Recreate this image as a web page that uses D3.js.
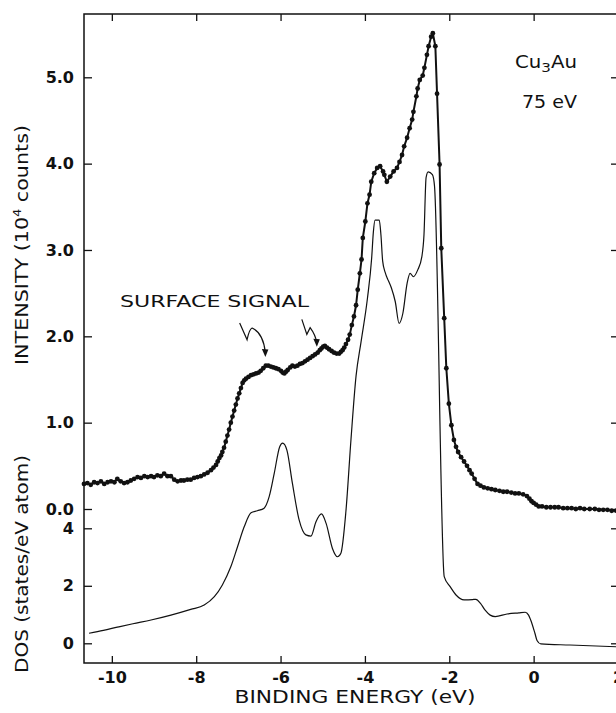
<!DOCTYPE html>
<html>
<head>
<meta charset="utf-8">
<script src="https://cdn.jsdelivr.net/npm/d3@7"></script>
<style>
  body { margin: 0; background: #fff; }
  text { font-family: "DejaVu Sans", sans-serif; fill: #111; }
</style>
</head>
<body>
<div id="chart"></div>
<script>
// photoemission spectrum (10^4 counts) vs binding energy (eV)
const intensity = [
  [-10.66,0.29],[-10.58,0.30],[-10.50,0.28],[-10.42,0.31],[-10.34,0.30],[-10.26,0.32],[-10.18,0.29],
  [-10.10,0.31],[-10.02,0.32],[-9.94,0.31],[-9.87,0.35],[-9.79,0.32],[-9.71,0.30],[-9.63,0.31],
  [-9.55,0.33],[-9.47,0.35],[-9.39,0.37],[-9.31,0.36],[-9.23,0.38],[-9.15,0.37],[-9.07,0.38],
  [-9.00,0.37],[-8.92,0.39],[-8.84,0.38],[-8.76,0.41],[-8.68,0.38],[-8.60,0.38],[-8.52,0.34],
  [-8.44,0.32],[-8.36,0.33],[-8.29,0.33],[-8.21,0.34],[-8.13,0.34],[-8.05,0.36],[-7.97,0.37],
  [-7.89,0.38],[-7.81,0.40],[-7.73,0.42],[-7.65,0.45],[-7.59,0.48],[-7.53,0.51],[-7.49,0.55],
  [-7.45,0.59],[-7.41,0.62],[-7.38,0.66],[-7.34,0.71],[-7.30,0.78],[-7.26,0.85],[-7.22,0.92],
  [-7.18,1.00],[-7.14,1.07],[-7.10,1.14],[-7.06,1.21],[-7.02,1.28],[-6.98,1.34],[-6.94,1.40],
  [-6.90,1.46],[-6.86,1.49],[-6.82,1.51],[-6.76,1.53],[-6.70,1.55],[-6.64,1.56],[-6.58,1.57],
  [-6.52,1.58],[-6.47,1.60],[-6.41,1.63],[-6.35,1.66],[-6.29,1.66],[-6.23,1.65],[-6.17,1.64],
  [-6.11,1.63],[-6.05,1.62],[-5.99,1.60],[-5.95,1.58],[-5.91,1.57],[-5.87,1.59],[-5.83,1.61],
  [-5.77,1.64],[-5.72,1.66],[-5.66,1.65],[-5.60,1.66],[-5.54,1.68],[-5.48,1.69],[-5.42,1.71],
  [-5.36,1.73],[-5.30,1.75],[-5.24,1.77],[-5.18,1.79],[-5.12,1.81],[-5.07,1.84],[-5.03,1.86],
  [-4.99,1.88],[-4.95,1.89],[-4.90,1.87],[-4.85,1.85],[-4.79,1.83],[-4.73,1.81],[-4.67,1.80],
  [-4.61,1.80],[-4.57,1.82],[-4.53,1.84],[-4.49,1.87],[-4.45,1.91],[-4.40,1.96],[-4.36,2.02],
  [-4.31,2.13],[-4.26,2.23],[-4.21,2.36],[-4.17,2.54],[-4.12,2.73],[-4.08,2.89],[-4.05,3.14],
  [-3.99,3.33],[-3.94,3.54],[-3.89,3.64],[-3.85,3.79],[-3.78,3.89],[-3.71,3.95],[-3.64,3.97],
  [-3.57,3.91],[-3.54,3.87],[-3.48,3.79],[-3.40,3.85],[-3.32,3.91],[-3.24,3.95],[-3.18,4.02],
  [-3.12,4.10],[-3.07,4.20],[-3.00,4.30],[-2.94,4.41],[-2.88,4.51],[-2.85,4.60],[-2.78,4.78],
  [-2.75,4.87],[-2.70,4.97],[-2.63,5.02],[-2.59,5.11],[-2.53,5.26],[-2.49,5.36],[-2.43,5.47],
  [-2.39,5.51],[-2.33,5.36],[-2.29,4.81],[-2.23,3.99],[-2.19,3.02],[-2.12,2.21],[-2.07,1.63],
  [-2.01,1.22],[-1.95,0.97],[-1.89,0.80],[-1.84,0.72],[-1.79,0.66],[-1.72,0.60],[-1.65,0.55],
  [-1.58,0.50],[-1.52,0.45],[-1.47,0.41],[-1.40,0.35],[-1.33,0.29],[-1.26,0.27],[-1.18,0.25],
  [-1.09,0.24],[-1.00,0.23],[-0.91,0.22],[-0.81,0.21],[-0.72,0.20],[-0.63,0.20],[-0.53,0.19],
  [-0.44,0.18],[-0.35,0.18],[-0.25,0.17],[-0.16,0.15],[-0.10,0.12],[-0.05,0.09],[0.00,0.07],
  [0.06,0.05],[0.12,0.03],[0.20,0.03],[0.30,0.02],[0.40,0.02],[0.50,0.02],[0.59,0.02],
  [0.70,0.01],[0.80,0.01],[0.90,0.01],[1.00,0.00],[1.10,0.01],[1.20,0.00],[1.33,0.00],
  [1.45,0.00],[1.55,-0.01],[1.65,-0.01],[1.75,-0.01],[1.85,-0.02],[1.96,-0.02]
];

// calculated density of states (states/eV atom)
const dos = [
  [-10.54,0.35],[-10.20,0.45],[-9.87,0.56],[-9.50,0.68],[-9.07,0.81],[-8.60,0.98],[-8.13,1.18],
  [-7.81,1.33],[-7.57,1.62],[-7.38,2.03],[-7.18,2.66],[-7.02,3.36],[-6.86,4.06],[-6.70,4.54],
  [-6.55,4.61],[-6.39,4.70],[-6.27,5.10],[-6.15,5.91],[-6.02,6.84],[-5.95,6.96],[-5.85,6.72],
  [-5.72,5.57],[-5.56,4.29],[-5.40,3.77],[-5.28,3.73],[-5.16,4.23],[-5.03,4.50],[-4.92,4.17],
  [-4.77,3.30],[-4.65,3.01],[-4.57,3.13],[-4.45,4.60],[-4.33,7.10],[-4.21,9.30],[-4.09,10.50],
  [-3.94,12.00],[-3.84,13.40],[-3.80,14.30],[-3.76,14.72],[-3.66,14.72],[-3.62,14.20],
  [-3.58,13.30],[-3.52,12.90],[-3.44,12.60],[-3.37,12.35],[-3.28,11.88],[-3.19,11.13],
  [-3.10,11.48],[-3.00,12.52],[-2.93,12.87],[-2.85,12.75],[-2.75,12.98],[-2.65,13.45],
  [-2.60,14.20],[-2.55,16.20],[-2.50,16.40],[-2.40,16.30],[-2.35,15.90],[-2.12,2.32],
  [-1.98,1.97],[-1.84,1.68],[-1.65,1.51],[-1.45,1.52],[-1.37,1.53],[-1.26,1.39],[-1.15,1.15],
  [-1.03,0.98],[-0.91,0.93],[-0.63,1.02],[-0.35,1.06],[-0.20,1.08],[-0.12,0.98],[-0.07,0.81],
  [0.03,0.35],[0.08,0.10],[0.17,-0.02],[0.86,-0.06],[1.96,-0.12]
];

const energyTicks = [-10, -8, -6, -4, -2, 0, 2];
const intensityTicks = [0, 1, 2, 3, 4, 5];
const dosTicks = [0, 2, 4];

// arrow tips for the "SURFACE SIGNAL" note, in data units
const surfaceArrows = [[-6.36, 1.76], [-5.14, 1.88]];

const width = 616;
const height = 713;
const frame = {left: 84, right: 618, top: 14, bottom: 663};

const x = d3.scaleLinear()
      .domain([-10.66, 2.0])
      .range([frame.left, frame.right]);

const yI = d3.scaleLinear()
      .domain([0, 5])
      .range([509, 77.3]);

const yD = d3.scaleLinear()
      .domain([0, 4])
      .range([643.3, 528.3]);

const svg = d3.select("#chart").append("svg")
      .attr("width", width)
      .attr("height", height)
      .attr("viewBox", [0, 0, width, height]);

svg.append("rect")
    .attr("width", width).attr("height", height).attr("fill", "#fff");

const tickStyle = g => g
      .call(g => g.select(".domain").remove())
      .call(g => g.selectAll(".tick line").attr("stroke", "#111").attr("stroke-width", 1.3))
      .call(g => g.selectAll(".tick text")
            .attr("font-family", "DejaVu Sans")
            .attr("font-weight", "bold")
            .attr("font-size", 16)
            .attr("fill", "#111"));

// bottom / top
svg.append("g")
    .attr("transform", `translate(0,${frame.bottom})`)
    .call(d3.axisBottom(x).tickValues(energyTicks).tickSizeInner(-7).tickSizeOuter(0)
          .tickPadding(9).tickFormat(d => String(d)))
    .call(tickStyle);

svg.append("g")
    .attr("transform", `translate(0,${frame.top})`)
    .call(d3.axisTop(x).tickValues(energyTicks).tickSizeInner(-7).tickSizeOuter(0).tickFormat(""))
    .call(tickStyle);

// left: intensity and DOS scales
svg.append("g")
    .attr("transform", `translate(${frame.left},0)`)
    .call(d3.axisLeft(yI).tickValues(intensityTicks).tickSizeInner(-8).tickSizeOuter(0)
          .tickPadding(10).tickFormat(d3.format(".1f")))
    .call(tickStyle);

svg.append("g")
    .attr("transform", `translate(${frame.left},0)`)
    .call(d3.axisLeft(yD).tickValues(dosTicks).tickSizeInner(-8).tickSizeOuter(0)
          .tickPadding(10).tickFormat(d3.format("d")))
    .call(tickStyle);

svg.append("g")
    .attr("transform", `translate(${frame.right},0)`)
    .call(d3.axisRight(yI).tickValues(intensityTicks).tickSizeInner(-7).tickSizeOuter(0).tickFormat(""))
    .call(tickStyle);

svg.append("g")
    .attr("transform", `translate(${frame.right},0)`)
    .call(d3.axisRight(yD).tickValues(dosTicks).tickSizeInner(-7).tickSizeOuter(0).tickFormat(""))
    .call(tickStyle);

svg.append("rect")
    .attr("x", frame.left)
    .attr("y", frame.top)
    .attr("width", frame.right - frame.left)
    .attr("height", frame.bottom - frame.top)
    .attr("fill", "none")
    .attr("stroke", "#111")
    .attr("stroke-width", 1.5);

// DOS curve
const dosLine = d3.line()
      .curve(d3.curveMonotoneX)
      .x(d => x(d[0]))
      .y(d => yD(d[1]));

svg.append("path")
    .datum(dos)
    .attr("fill", "none")
    .attr("stroke", "#111")
    .attr("stroke-width", 1.2)
    .attr("stroke-linejoin", "round")
    .attr("d", dosLine);

// measured intensity, line + dots
const intLine = d3.line()
      .x(d => x(d[0]))
      .y(d => yI(d[1]));

svg.append("path")
    .datum(intensity)
    .attr("fill", "none")
    .attr("stroke", "#111")
    .attr("stroke-width", 2)
    .attr("stroke-linejoin", "round")
    .attr("d", intLine);

svg.append("g")
    .selectAll("circle")
    .data(intensity)
    .join("circle")
    .attr("cx", d => x(d[0]))
    .attr("cy", d => yI(d[1]))
    .attr("r", 2.4)
    .attr("fill", "#111");

// axis titles
svg.append("text")
    .attr("x", 355)
    .attr("y", 703)
    .attr("text-anchor", "middle")
    .attr("font-size", 17.5)
    .attr("textLength", 241)
    .attr("lengthAdjust", "spacingAndGlyphs")
    .text("BINDING ENERGY (eV)");

const yTitleI = svg.append("text")
      .attr("transform", "translate(28,245) rotate(-90)")
      .attr("text-anchor", "middle")
      .attr("font-size", 17.5)
      .attr("textLength", 240)
      .attr("lengthAdjust", "spacingAndGlyphs");
yTitleI.append("tspan").text("INTENSITY (10");
yTitleI.append("tspan").attr("dy", -7).attr("font-size", 11).text("4");
yTitleI.append("tspan").attr("dy", 7).text(" counts)");

svg.append("text")
    .attr("transform", "translate(28,564) rotate(-90)")
    .attr("text-anchor", "middle")
    .attr("font-size", 17.5)
    .attr("textLength", 218)
    .attr("lengthAdjust", "spacingAndGlyphs")
    .text("DOS (states/eV atom)");

// sample labels
const formula = svg.append("text")
      .attr("x", 515)
      .attr("y", 68)
      .attr("font-size", 17)
      .attr("textLength", 62)
      .attr("lengthAdjust", "spacingAndGlyphs");
formula.append("tspan").text("Cu");
formula.append("tspan").attr("dy", 4).attr("font-size", 13).text("3");
formula.append("tspan").attr("dy", -4).text("Au");

svg.append("text")
    .attr("x", 522)
    .attr("y", 108)
    .attr("font-size", 17)
    .attr("textLength", 55)
    .attr("lengthAdjust", "spacingAndGlyphs")
    .text("75 eV");

// surface signal note and its squiggly arrows
svg.append("text")
    .attr("x", 120)
    .attr("y", 307)
    .attr("font-size", 16.5)
    .attr("textLength", 189)
    .attr("lengthAdjust", "spacingAndGlyphs")
    .text("SURFACE SIGNAL");

const squiggles = [
  "M-25.7,-34 L-18.3,-17.3 Q-16,-28 -13.3,-29 Q-2,-24 0,-4",
  "M-15,-27.3 L-10,-12.3 L-6.7,-19 Q-1.5,-12 0,-4"
];

surfaceArrows.forEach((d, i) => {
  const g = svg.append("g")
        .attr("transform", `translate(${x(d[0])},${yI(d[1])})`);
  g.append("path")
      .attr("d", squiggles[i])
      .attr("fill", "none")
      .attr("stroke", "#111")
      .attr("stroke-width", 1.2);
  g.append("path")
      .attr("d", "M0,0 L-3.5,-8 L3,-7.5 Z")
      .attr("fill", "#111");
});
</script>
</body>
</html>
